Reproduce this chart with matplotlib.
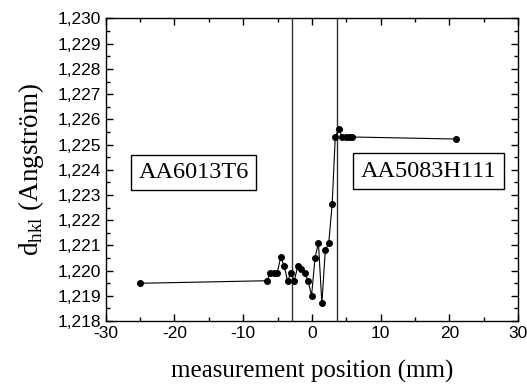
import matplotlib
matplotlib.use("Agg")
import matplotlib.pyplot as plt
from matplotlib.ticker import MultipleLocator, FuncFormatter

plt.rcParams['mathtext.fontset'] = 'custom'
plt.rcParams['mathtext.rm'] = 'Liberation Serif'

# measured lattice spacing across the weld
position = [-25, -6.55, -6.05, -5.55, -5.05, -4.55, -4.05, -3.55, -3.05, -2.55,
            -2.05, -1.55, -1.05, -0.55, -0.05, 0.45, 0.95, 1.45, 1.95, 2.45,
            2.95, 3.4, 3.9, 4.4, 4.9, 5.4, 5.9, 21]
d_hkl = [1.2195, 1.2196, 1.2199, 1.2199, 1.2199, 1.22053, 1.2202, 1.2196, 1.2199, 1.2196,
         1.2202, 1.22005, 1.2199, 1.2196, 1.2190, 1.2205, 1.2211, 1.2187, 1.2208, 1.2211,
         1.22264, 1.22531, 1.22562, 1.2253, 1.2253, 1.2253, 1.2253, 1.22522]

# boundaries of the weld zone
boundaries = [-2.9, 3.64]
materials = ["AA6013T6", "AA5083H111"]

fig = plt.figure(figsize=(5.27, 3.85), dpi=100)
ax = fig.add_axes([0.2006, 0.166, 0.7825, 0.786])

for b in boundaries:
    ax.axvline(b, color="#303030", lw=1.0)

ax.plot(position, d_hkl, color="black", lw=0.8, marker="o", ms=4)

ax.set_xlim(-30, 30)
ax.set_ylim(1.218, 1.230)
ax.xaxis.set_major_locator(MultipleLocator(10))
ax.xaxis.set_minor_locator(MultipleLocator(5))
ax.yaxis.set_major_locator(MultipleLocator(0.001))
ax.yaxis.set_minor_locator(MultipleLocator(0.0005))
ax.yaxis.set_major_formatter(FuncFormatter(lambda v, p: f"{v:.3f}".replace(".", ",")))
ax.xaxis.set_major_formatter(FuncFormatter(lambda v, p: f"{v:.0f}"))

ax.tick_params(which="both", direction="in", top=True, right=True,
               labelsize=12.5, width=1.0)
ax.tick_params(which="major", length=5)
ax.tick_params(which="minor", length=3)
for lab in ax.get_xticklabels() + ax.get_yticklabels():
    lab.set_fontfamily("Liberation Sans")
for s in ax.spines.values():
    s.set_linewidth(1.0)

ax.set_xlabel("measurement position (mm)", fontfamily="Liberation Serif",
              fontsize=18, labelpad=14)
ax.set_ylabel(r"d$_{\rm hkl}$ (Angström)", fontfamily="Liberation Serif",
              fontsize=19.5, labelpad=8)

box = dict(boxstyle="square,pad=0.3", fc="white", ec="black", lw=1.0)
ax.text(-17.2, 1.2239, materials[0], fontfamily="Liberation Serif", fontsize=17.5,
        ha="center", va="center", bbox=box)
ax.text(16.97, 1.22395, materials[1], fontfamily="Liberation Serif", fontsize=17.5,
        ha="center", va="center", bbox=box)

fig.savefig("out.png", dpi=100)
